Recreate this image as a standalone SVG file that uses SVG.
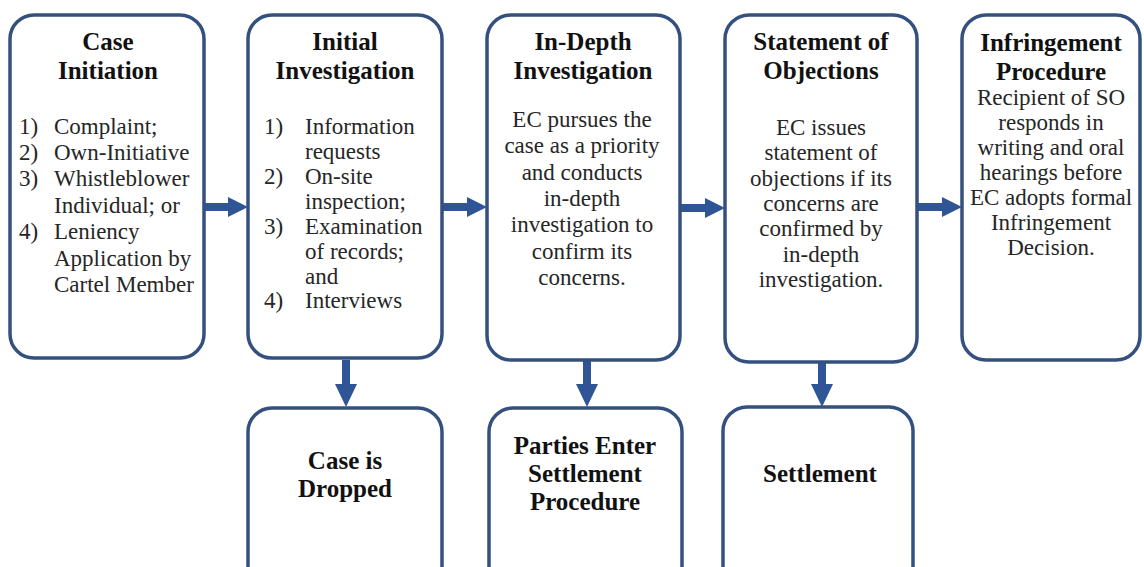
<svg xmlns="http://www.w3.org/2000/svg" width="1144" height="567" viewBox="0 0 1144 567">
<style>
.box{fill:#ffffff;stroke:#34507f;stroke-width:3.5}
.arr{fill:#2f5597}
.t{font-family:'Liberation Serif','Times New Roman',serif;font-weight:bold;font-size:25px;fill:#111;text-anchor:middle}
.b{font-family:'Liberation Serif','Times New Roman',serif;font-size:23px;fill:#262626;text-anchor:middle}
.l{font-family:'Liberation Serif','Times New Roman',serif;font-size:23px;fill:#262626}
</style>
<rect width="1144" height="567" fill="#ffffff"/>
<g id="connectors">
<path class="arr" d="M203,203 H228 V197 L248,207 L228,217 V211 H203 Z"/>
<path class="arr" d="M442,203 H467 V197 L487,207 L467,217 V211 H442 Z"/>
<path class="arr" d="M680,204 H705 V198 L725,208 L705,218 V212 H680 Z"/>
<path class="arr" d="M917,203 H942 V197 L962,207 L942,217 V211 H917 Z"/>
<path class="arr" d="M342,360 V384 H335 L346,407 L357,384 H350 V360 Z"/>
<path class="arr" d="M583,361 V384 H576 L587,407 L598,384 H591 V361 Z"/>
<path class="arr" d="M818,362 V384 H811 L822,407 L833,384 H826 V362 Z"/>
</g>
<g id="case-initiation">
<rect class="box" x="10" y="15" width="194" height="343" rx="24"/>
<text class="t" x="108" y="50">Case</text>
<text class="t" x="108" y="79">Initiation</text>
<text class="l" x="19" y="134">1)</text><text class="l" x="54" y="134">Complaint;</text>
<text class="l" x="19" y="160">2)</text><text class="l" x="54" y="160">Own-Initiative</text>
<text class="l" x="19" y="186">3)</text><text class="l" x="54" y="186">Whistleblower</text>
<text class="l" x="54" y="213">Individual; or</text>
<text class="l" x="19" y="239">4)</text><text class="l" x="54" y="239">Leniency</text>
<text class="l" x="54" y="266">Application by</text>
<text class="l" x="54" y="292">Cartel Member</text>
</g>
<g id="initial-investigation">
<rect class="box" x="248" y="15" width="194" height="343" rx="24"/>
<text class="t" x="345" y="50">Initial</text>
<text class="t" x="345" y="79">Investigation</text>
<text class="l" x="264" y="134">1)</text><text class="l" x="305" y="134">Information</text>
<text class="l" x="305" y="159">requests</text>
<text class="l" x="264" y="184">2)</text><text class="l" x="305" y="184">On-site</text>
<text class="l" x="305" y="209">inspection;</text>
<text class="l" x="264" y="234">3)</text><text class="l" x="305" y="234">Examination</text>
<text class="l" x="305" y="259">of records;</text>
<text class="l" x="305" y="284">and</text>
<text class="l" x="264" y="308">4)</text><text class="l" x="305" y="308">Interviews</text>
</g>
<g id="in-depth-investigation">
<rect class="box" x="487" y="15" width="193" height="345" rx="24"/>
<text class="t" x="583" y="50">In-Depth</text>
<text class="t" x="583" y="79">Investigation</text>
<text class="b" x="582" y="127">EC pursues the</text>
<text class="b" x="582" y="153">case as a priority</text>
<text class="b" x="582" y="180">and conducts</text>
<text class="b" x="582" y="206">in-depth</text>
<text class="b" x="582" y="232">investigation to</text>
<text class="b" x="582" y="259">confirm its</text>
<text class="b" x="582" y="285">concerns.</text>
</g>
<g id="statement-of-objections">
<rect class="box" x="725" y="15" width="192" height="347" rx="24"/>
<text class="t" x="821" y="50">Statement of</text>
<text class="t" x="821" y="79">Objections</text>
<text class="b" x="821" y="135">EC issues</text>
<text class="b" x="821" y="160">statement of</text>
<text class="b" x="821" y="186">objections if its</text>
<text class="b" x="821" y="211">concerns are</text>
<text class="b" x="821" y="236">confirmed by</text>
<text class="b" x="821" y="262">in-depth</text>
<text class="b" x="821" y="287">investigation.</text>
</g>
<g id="infringement-procedure">
<rect class="box" x="962" y="15" width="178" height="345" rx="24"/>
<text class="t" x="1051" y="51">Infringement</text>
<text class="t" x="1051" y="80">Procedure</text>
<text class="b" x="1051" y="105">Recipient of SO</text>
<text class="b" x="1051" y="130">responds in</text>
<text class="b" x="1051" y="155">writing and oral</text>
<text class="b" x="1051" y="180">hearings before</text>
<text class="b" x="1051" y="205">EC adopts formal</text>
<text class="b" x="1051" y="230">Infringement</text>
<text class="b" x="1051" y="255">Decision.</text>
</g>
<g id="case-dropped">
<rect class="box" x="248" y="408" width="194" height="200" rx="24"/>
<text class="t" x="345" y="469">Case is</text>
<text class="t" x="345" y="497">Dropped</text>
</g>
<g id="parties-enter-settlement">
<rect class="box" x="489" y="408" width="193" height="200" rx="24"/>
<text class="t" x="585" y="454">Parties Enter</text>
<text class="t" x="585" y="482">Settlement</text>
<text class="t" x="585" y="510">Procedure</text>
</g>
<g id="settlement">
<rect class="box" x="723" y="407" width="190" height="200" rx="24"/>
<text class="t" x="820" y="482">Settlement</text>
</g>
</svg>
